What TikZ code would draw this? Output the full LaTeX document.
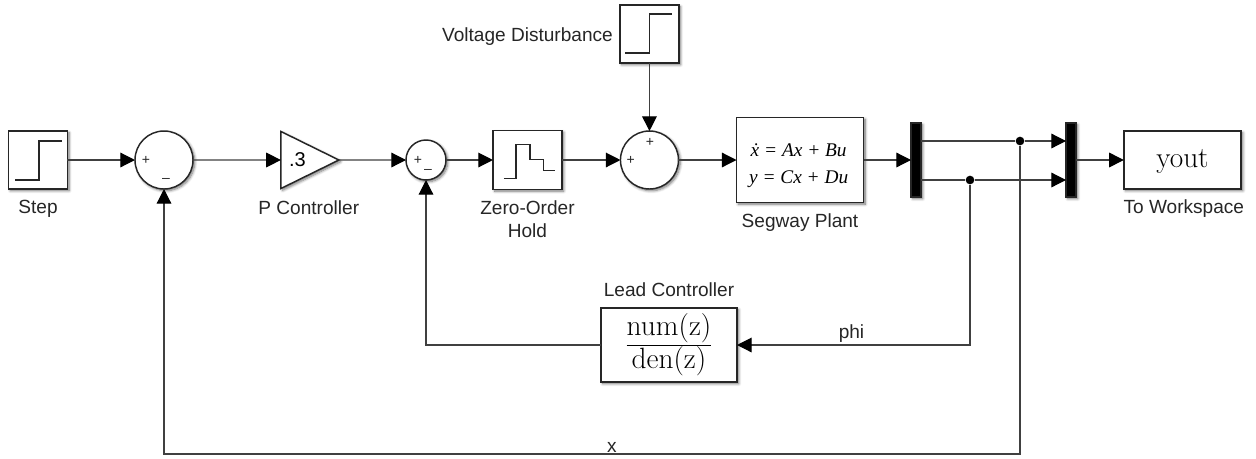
\documentclass[tikz,border=0pt]{standalone}
\usepackage{fontspec}
\setsansfont{Liberation Sans}
\newfontfamily\eqfont{Liberation Serif}
\usetikzlibrary{arrows.meta,shapes.geometric,shadows.blur,calc}
\newcommand{\stepglyph}[3]{\draw[glyph] ([shift={(#2,#3)}]#1.center) -- ++(24,0) -- ++(0,-39) -- ++(23,0);}
\begin{document}
\begin{tikzpicture}[x=0.75pt, y=-0.75pt,
                        softshadow/.style={blur shadow={shadow xshift=1.3pt, shadow yshift=-1.3pt, shadow blur radius=2pt, shadow blur steps=6, shadow opacity=55}},
                        block/.style={draw=black!85, line width=1.1pt, fill=white, inner sep=0pt, outer sep=0pt, softshadow},
                        sumnode/.style={block, circle},
                        bar/.style={block, fill=black, minimum width=7.5pt, minimum height=55.5pt},
                        caption/.style={font=\sffamily\fontsize{14.3pt}{17.25pt}\selectfont, text=black!85, align=center, inner sep=0pt},
                        sign/.style={font=\sffamily\fontsize{10.5pt}{10.5pt}\selectfont, text=black!85, inner sep=0pt},
                        glyph/.style={line width=0.9pt, black!85},
                        signal/.style={line width=0.9pt, black!75, -{Triangle[length=11pt, width=11pt, color=black]}},
                        wire/.style={line width=0.9pt, black!75},
                        tap/.style={circle, fill=black, inner sep=0pt, minimum size=6.5pt}]
        \useasboundingbox (0,0) rectangle (1256,458);

        % top row
        \node[block, minimum width=44pt, minimum height=43.5pt] (step) at (38,160) {};
        \node[sumnode, minimum size=43.5pt, right of=step, node distance=94.5pt] (sumx) {};
        \node[block, isosceles triangle, isosceles triangle apex angle=52.4, minimum height=43.5pt, right of=sumx, node distance=100.1pt, font=\sffamily\fontsize{15pt}{16pt}\selectfont] (gain) {.3};
        \node[sumnode, minimum size=30pt, right of=gain, node distance=96.4pt] (sumphi) {};
        \node[block, minimum width=51.75pt, minimum height=44pt, right of=sumphi, node distance=76.1pt] (zoh) {};
        \node[sumnode, minimum size=43.5pt, right of=zoh, node distance=91.5pt] (sumv) {};
        \node[block, minimum width=95.25pt, minimum height=63.75pt, right of=sumv, node distance=112.9pt] (plant) {};
        \node[bar, right of=plant, node distance=87pt] (demux) {};
        \node[bar, right of=demux, node distance=116.25pt] (mux) {};
        \node[block, minimum width=88pt, minimum height=43.5pt, right of=mux, node distance=83.6pt, font=\fontsize{22pt}{24pt}\selectfont] (yout) {\raisebox{-5.5pt}[0pt][0pt]{yout}};

        % other blocks
        \node[block, minimum width=44pt, minimum height=43.5pt, above of=sumv, node distance=94.5pt] (volt) {};
        \node[block, minimum width=102pt, minimum height=55.5pt] (lead) at (669,345) {};
        \node[align=center, inner sep=0pt, font=\fontsize{22pt}{23pt}\selectfont] (leadtf) at (lead) {\underline{num(z)}\\den(z)};

        % plant equations
        \node[align=center, inner sep=0pt, yshift=-4.5pt, xshift=-1pt, font=\eqfont\itshape\fontsize{14.5pt}{20pt}\selectfont] (planteq) at (plant) {\.x = Ax + Bu\\y = Cx + Du};

        % block glyphs
        \stepglyph{step}{-23}{20}
        \stepglyph{volt}{-24}{19}
        \draw[glyph] ([shift={(-23.5,18.5)}]zoh.center) -- ++(12,0) -- ++(0,-34) -- ++(14,0) -- ++(0,15) -- ++(13.5,0) -- ++(0,11) -- ++(11.5,0);

        % signs
        \node[sign] (sumxa) at ([xshift=-13.5pt, yshift=-0.5pt]sumx.center) {+};
        \node[sign] (sumxb) at ([xshift=1.5pt, yshift=-15.5pt]sumx.center) {--};
        \node[sign] (sumphia) at ([xshift=-6pt, yshift=-0.5pt]sumphi.center) {+};
        \node[sign] (sumphib) at ([xshift=1.5pt, yshift=-8.5pt]sumphi.center) {--};
        \node[sign] (sumva) at ([xshift=-14pt, yshift=-0.5pt]sumv.center) {+};
        \node[sign] (sumvb) at ([xshift=0.4pt, yshift=13pt]sumv.center) {+};

        % captions
        \node[caption, below of=step, node distance=36.5pt] (steptxt) {Step};
        \node[caption, below of=gain, node distance=36pt, xshift=8.5pt] (gaintxt) {P Controller};
        \node[caption, below of=zoh, node distance=44.25pt] (zohtxt) {Zero-Order\\Hold};
        \node[caption, below of=plant, node distance=47pt] (planttxt) {Segway Plant};
        \node[caption, below of=yout, node distance=36.5pt, xshift=1pt] (youttxt) {To Workspace};
        \node[caption, left of=volt, node distance=91.5pt, yshift=-2.2pt] (volttxt) {Voltage Disturbance};
        \node[caption, above of=lead, node distance=41.25pt] (leadtxt) {Lead Controller};

        % branch points
        \node[tap] (tapx) at (1020,141) {};
        \node[tap] (tapphi) at (970,180) {};
        \coordinate (xturn) at (1020,454);
        \coordinate (phiturn) at (tapphi |- lead);

        % top row signals
        \draw[signal] (step) -- (sumx);
        \draw[signal] (sumx) -- (gain.west);
        \draw[signal] (gain.east) -- (sumphi);
        \draw[signal] (sumphi) -- (zoh);
        \draw[signal] (zoh) -- (sumv);
        \draw[signal] (volt) -- (sumv);
        \draw[signal] (sumv) -- (plant);
        \draw[signal] (plant) -- (demux);
        \draw[signal] (mux) -- (yout);
        \draw[wire] (demux.east |- tapx) -- (tapx);
        \draw[wire] (demux.east |- tapphi) -- (tapphi);
        \draw[signal] (tapx) -- (mux.west |- tapx);
        \draw[signal] (tapphi) -- (mux.west |- tapphi);

        % feedback
        \draw[signal] (tapphi) |- (lead);
        \draw[signal] (lead) -| (sumphi);
        \draw[signal] (tapx) |- (xturn) -| (sumx);
        \path (phiturn)-- node[caption, above=2pt, xshift=-1.5pt] (phitxt) {phi} (lead);
        \path (xturn)-- node[caption, above=1pt, xshift=15pt] (xtxt) {x} (xturn -| sumx);
    \end{tikzpicture}
\end{document}
